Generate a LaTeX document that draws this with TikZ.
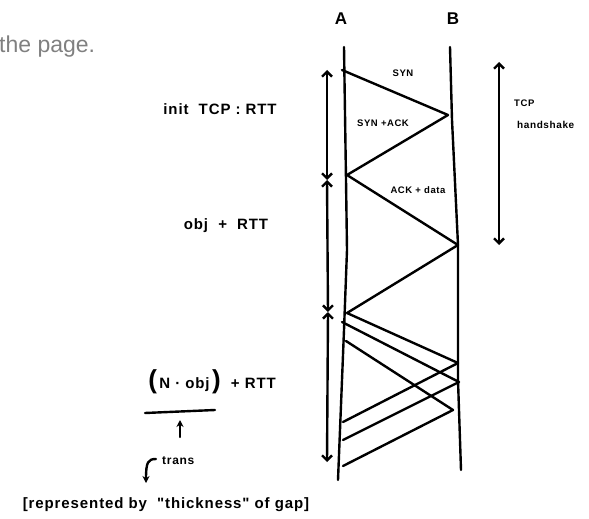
\documentclass[tikz,border=0pt]{standalone}
\usepackage{fontspec}
\setmainfont{Liberation Sans}
\newfontfamily\hand[LetterSpace=6]{Liberation Sans}
\usetikzlibrary{arrows.meta}
\definecolor{pagegray}{RGB}{128,128,128}
\begin{document}
\begin{tikzpicture}[x=1pt,y=-1pt,
  ink/.style={line width=2.4pt,line cap=round,line join=round},
  msg/.style={ink},
  span/.style={ink,{Straight Barb[length=5pt,width=10pt]}-{Straight Barb[length=5pt,width=10pt]}},
  lbl/.style={inner sep=0pt,font=\hand}]
\useasboundingbox (0,0) rectangle (589,519);
% stray page text
\node[anchor=west,inner sep=0pt,text=pagegray,font=\fontsize{23}{26}\selectfont] (pg) at (-1,47) {the page.};
% lifeline labels
\node[lbl,font=\hand\bfseries\fontsize{17}{18}\selectfont] (A) at (341,19) {A};
\node[lbl,font=\hand\bfseries\fontsize{17}{18}\selectfont] (B) at (453,19) {B};
% lifelines
\coordinate (a0) at (344,47); \coordinate (aEnd) at (338,480);
\coordinate (b0) at (450,47); \coordinate (bEnd) at (461,470);
\draw[ink] (a0) -- (346,180) -- (347,250) -- (344,330) -- (aEnd);
\draw[ink] (b0) -- (452,120) -- (458,245) -- (458,380) -- (bEnd);
% message points
\coordinate (a1) at (342,70);
\coordinate (b1) at (448,115);
\coordinate (a2) at (347,175);
\coordinate (b2) at (458,245);
\coordinate (a3) at (347,313);
\coordinate (a4) at (342,322);
\coordinate (a5) at (346,341);
\coordinate (b3) at (458,363);
\coordinate (b4) at (459,382);
\coordinate (b5) at (453,410);
\coordinate (a6) at (343,422);
\coordinate (a7) at (343,440);
\coordinate (a8) at (343,466);
\draw[msg] (a1) -- (b1) -- (a2) -- (b2) -- (a3) -- (b3) -- (a6);
\draw[msg] (a4) -- (b4) -- (a7);
\draw[msg] (a5) -- (b5) -- (a8);
% message labels
\node[lbl,font=\hand\bfseries\fontsize{9.5}{10}\selectfont] (syn) at (403,73) {SYN};
\node[lbl,font=\hand\bfseries\fontsize{9.5}{10}\selectfont] (synack) at (383,123) {SYN +ACK};
\node[lbl,font=\hand\bfseries\fontsize{9.5}{10}\selectfont] (ackdata) at (418,190) {ACK + data};
% left timing arrows
\coordinate (t0) at (327,70);
\coordinate (t1) at (327,180);
\coordinate (t2) at (328,312);
\coordinate (t3) at (327,462);
\draw[span] (t0) -- (t1);
\draw[span] (t1) -- (t2);
\draw[span] (t2) -- (t3);
% right handshake arrow
\coordinate (h0) at (499,62);
\coordinate (h1) at (499,245);
\draw[span] (h0) -- (h1);
\node[lbl,anchor=west,font=\hand\bfseries\fontsize{9.5}{10}\selectfont] (tcp) at (514,103) {TCP};
\node[lbl,anchor=west,font=\hand\bfseries\fontsize{10}{11}\selectfont] (hs) at (517,125) {handshake};
% left annotations
\node[lbl,font=\hand\bfseries\fontsize{15}{17}\selectfont] (init) at (220,109) {init\ \ TCP : RTT};
\node[lbl,font=\hand\bfseries\fontsize{15}{17}\selectfont] (obj) at (226,226) {obj\ \ + \ RTT};
\node[lbl,font=\hand\bfseries\fontsize{15}{17}\selectfont] (nobj) at (212,382) {{\fontsize{26}{26}\selectfont(}\,N · obj\,{\fontsize{26}{26}\selectfont)}\ \ + RTT};
\coordinate (u0) at (145,413);
\coordinate (u1) at (215,410);
\draw[ink] (u0) -- (u1);
\coordinate (up0) at (180,437);
\coordinate (up1) at (180,420);
\draw[ink,-{Stealth[length=7pt,width=7pt]}] (up0) -- (up1);
\node[lbl,anchor=west,font=\hand\bfseries\fontsize{12}{14}\selectfont] (trans) at (162,461) {trans};
\coordinate (k0) at (156,459);
\coordinate (k1) at (146,483);
\draw[ink,-{Stealth[length=7pt,width=7pt]}] (k0) .. controls (148,459) and (146,462) .. (k1);
\node[lbl,font=\hand\bfseries\fontsize{15}{17}\selectfont] (note) at (166,505) {[represented by\ \ "thickness" of gap]};
\end{tikzpicture}
\end{document}
